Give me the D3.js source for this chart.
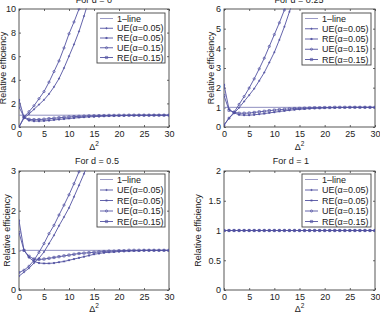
<!DOCTYPE html>
<html><head><meta charset="utf-8">
<script src="https://cdn.jsdelivr.net/npm/d3@7"></script>
<style>
body{margin:0;background:#fff;}
text{font-family:"Liberation Sans",Arial,sans-serif;fill:#222;}
</style></head>
<body><svg id="c" width="380" height="315"></svg>
<script>
// ---- data ----
const delta2 = [0,1,2,3,4,5,6,7,8,9,10,11,12,13,14,15,16,17,18,19,20,21,22,23,24,25,26,27,28,29,30];
const seriesNames = ["UE(\u03b1=0.05)","RE(\u03b1=0.05)","UE(\u03b1=0.15)","RE(\u03b1=0.15)"];
const xTicks = [0,5,10,15,20,25,30];

// d = 0
const ue05_d0 = [0,0.75,1.1,1.5,1.9,2.3,2.8,3.4,4.1,5.0,6.0,7.0,8.1,9.4,10.8];
const re05_d0 = [2.3,0.8,0.55,0.5,0.5,0.52,0.55,0.6,0.64,0.68,0.72,0.76,0.8,0.83,0.86,0.88,0.9,0.92,0.94,0.95,0.96,0.97,0.98,0.98,0.99,0.99,0.99,1,1,1,1];
const ue15_d0 = [0,0.85,1.3,1.8,2.4,3.0,3.8,4.7,5.6,6.7,7.9,8.9,10.0,11.3];
const re15_d0 = [1.7,0.85,0.65,0.62,0.63,0.66,0.7,0.74,0.78,0.82,0.85,0.88,0.9,0.92,0.94,0.95,0.96,0.97,0.98,0.98,0.99,0.99,1,1,1,1,1,1,1,1,1];
// d = 0.25
const ue05_d25 = [0.1,0.45,0.7,0.98,1.3,1.62,1.95,2.35,2.77,3.28,3.8,4.43,5.1,5.86,6.6];
const re05_d25 = [2.15,0.9,0.72,0.62,0.6,0.6,0.62,0.65,0.68,0.72,0.75,0.79,0.82,0.85,0.88,0.9,0.92,0.94,0.95,0.96,0.97,0.98,0.98,0.99,0.99,1,1,1,1,1,1];
const ue15_d25 = [0.1,0.45,0.75,1.15,1.55,1.98,2.45,2.96,3.5,4.1,4.7,5.3,5.95,6.6];
const re15_d25 = [1.6,0.85,0.75,0.7,0.7,0.71,0.74,0.77,0.8,0.83,0.86,0.88,0.9,0.92,0.94,0.95,0.96,0.97,0.98,0.98,0.99,0.99,1,1,1,1,1,1,1,1,1];
// d = 0.5
const ue05_d5 = [0.35,0.45,0.55,0.68,0.8,0.96,1.17,1.38,1.62,1.84,2.07,2.35,2.64,2.93,3.25];
const re05_d5 = [1.75,1.0,0.82,0.72,0.68,0.67,0.67,0.68,0.7,0.72,0.75,0.78,0.81,0.84,0.87,0.9,0.92,0.94,0.95,0.96,0.97,0.98,0.98,0.99,0.99,1,1,1,1,1,1];
const ue15_d5 = [0.44,0.5,0.6,0.75,0.95,1.17,1.42,1.63,1.89,2.14,2.4,2.68,2.98,3.3];
const re15_d5 = [1.45,1.0,0.85,0.78,0.77,0.78,0.8,0.82,0.84,0.86,0.88,0.9,0.92,0.93,0.94,0.95,0.96,0.97,0.98,0.98,0.99,0.99,1,1,1,1,1,1,1,1,1];
// d = 1
const all_d1 = [1,1,1,1,1,1,1,1,1,1,1,1,1,1,1,1,1,1,1,1,1,1,1,1,1,1,1,1,1,1,1];

const titles = ["For d = 0","For d = 0.25","For d = 0.5","For d = 1"];
const yTicks0 = [0,2,4,6,8,10];
const yTicks25 = [0,1,2,3,4,5,6];
const yTicks5 = [0,1,2,3];
const yTicks1 = [0,0.5,1,1.5,2];

// ---- layout ----
const panels = [
  {title:titles[0], yMax:10, yTicks:yTicks0, series:[ue05_d0,re05_d0,ue15_d0,re15_d0],
   box:[19,169,9,127], titleX:94, titleY:3, ylabX:3, xlabY:150, leg:[97,165,13,63]},
  {title:titles[1], yMax:6, yTicks:yTicks25, series:[ue05_d25,re05_d25,ue15_d25,re15_d25],
   box:[224,375,9,127], titleX:299, titleY:3, ylabX:211, xlabY:150, leg:[302,371,13,65]},
  {title:titles[2], yMax:3, yTicks:yTicks5, series:[ue05_d5,re05_d5,ue15_d5,re15_d5],
   box:[19,169,171,290], titleX:97, titleY:164, ylabX:6.5, xlabY:312, leg:[97,165,174,227]},
  {title:titles[3], yMax:2, yTicks:yTicks1, series:[all_d1,all_d1,all_d1,all_d1],
   box:[224,375,171,290], titleX:291, titleY:164, ylabX:198, xlabY:312, leg:[302,371,174,227]}
];

const lineColor = "#5252a2";
const oneColor = "#9090c0";
const markers = ["plus","star","circle","square"];
const FS = 9;

function markerPath(type, r){
  switch(type){
    case "plus": return `M${-r},0H${r}M0,${-r}V${r}`;
    case "star": return `M${-r},0H${r}M0,${-r}V${r}M${-r*0.7},${-r*0.7}L${r*0.7},${r*0.7}M${-r*0.7},${r*0.7}L${r*0.7},${-r*0.7}`;
    case "circle": return `M${r},0A${r},${r} 0 1,1 ${-r},0A${r},${r} 0 1,1 ${r},0Z`;
    case "square": return `M${-r},${-r}H${r}V${r}H${-r}Z`;
  }
}

const svg = d3.select("#c");
const defs = svg.append("defs");

panels.forEach((p,pi)=>{
  const [x0,x1,y0,y1] = p.box;
  const x = d3.scaleLinear().domain([0,30]).range([x0,x1]);
  const y = d3.scaleLinear().domain([0,p.yMax]).range([y1,y0]);
  const g = svg.append("g");
  const cid = "clip"+pi;
  defs.append("clipPath").attr("id",cid).append("rect")
    .attr("x",x0).attr("y",y0-0.5).attr("width",x1-x0).attr("height",y1-y0+1);

  const xa = d3.axisBottom(x).tickValues(xTicks).tickSize(-2).tickPadding(4).tickFormat(d3.format("d"));
  const ya = d3.axisLeft(y).tickValues(p.yTicks).tickSize(-2).tickPadding(3).tickFormat(d=>String(d));
  const gx = g.append("g").attr("transform",`translate(0,${y1})`).call(xa);
  const gy = g.append("g").attr("transform",`translate(${x0},0)`).call(ya);
  const gxt = g.append("g").attr("transform",`translate(0,${y0})`).call(d3.axisTop(x).tickValues(xTicks).tickSize(-2).tickFormat(""));
  const gyr = g.append("g").attr("transform",`translate(${x1},0)`).call(d3.axisRight(y).tickValues(p.yTicks).tickSize(-2).tickFormat(""));
  [gx,gy,gxt,gyr].forEach(a=>{
    a.select(".domain").remove();
    a.selectAll("line").attr("stroke","#444").attr("stroke-width",0.8);
    a.selectAll("text").attr("font-size",FS).attr("fill","#222").style("font-family","'Liberation Sans',Arial,sans-serif");
  });
  g.append("rect").attr("x",x0).attr("y",y0).attr("width",x1-x0).attr("height",y1-y0)
    .attr("fill","none").attr("stroke","#444").attr("stroke-width",0.9);

  const plot = g.append("g").attr("clip-path",`url(#${cid})`);
  plot.append("path").datum([0,30])
    .attr("d",d3.line().x(d=>x(d)).y(()=>y(1)))
    .attr("stroke",oneColor).attr("stroke-width",1).attr("fill","none");
  const line = d3.line().x((d,i)=>x(delta2[i])).y(d=>y(d));
  p.series.forEach((s,si)=>{
    plot.append("path").datum(s).attr("d",line)
      .attr("stroke",lineColor).attr("stroke-width",0.9).attr("fill","none");
    plot.selectAll(null).data(s).enter().append("path")
      .attr("transform",(d,i)=>`translate(${x(delta2[i])},${y(d)})`)
      .attr("d",markerPath(markers[si],1.1))
      .attr("stroke",lineColor).attr("stroke-width",0.7).attr("fill","none");
  });

  g.append("text").attr("x",p.titleX).attr("y",p.titleY).attr("text-anchor","middle")
    .attr("font-size",FS).text(p.title);
  const xl = g.append("text").attr("x",(x0+x1)/2).attr("y",p.xlabY).attr("text-anchor","middle").attr("font-size",FS);
  xl.append("tspan").text("\u0394");
  xl.append("tspan").attr("dy",-4).attr("font-size",6.5).text("2");
  g.append("text").attr("transform",`translate(${p.ylabX},${(y0+y1)/2}) rotate(-90)`)
    .attr("text-anchor","middle").attr("dominant-baseline","central").attr("font-size",FS)
    .text("Relative efficiency");

  const [lx0,lx1,ly0,ly1] = p.leg;
  const lg = g.append("g");
  lg.append("rect").attr("x",lx0).attr("y",ly0).attr("width",lx1-lx0).attr("height",ly1-ly0)
    .attr("fill","#fff").attr("stroke","#444").attr("stroke-width",0.9);
  const names = ["1\u2013line"].concat(seriesNames);
  const step = (ly1-ly0-11)/4;
  names.forEach((n,ni)=>{
    const yy = ly0+5.5+ni*step;
    lg.append("line").attr("x1",lx0+3).attr("x2",lx0+16).attr("y1",yy).attr("y2",yy)
      .attr("stroke",ni===0?oneColor:lineColor).attr("stroke-width",0.9);
    if(ni>0){
      lg.append("path").attr("transform",`translate(${lx0+9.5},${yy})`)
        .attr("d",markerPath(markers[ni-1],1.1)).attr("stroke",lineColor).attr("stroke-width",0.7).attr("fill","none");
    }
    lg.append("text").attr("x",lx0+20).attr("y",yy).attr("dominant-baseline","central")
      .attr("font-size",FS).text(n);
  });
});
</script></body></html>
